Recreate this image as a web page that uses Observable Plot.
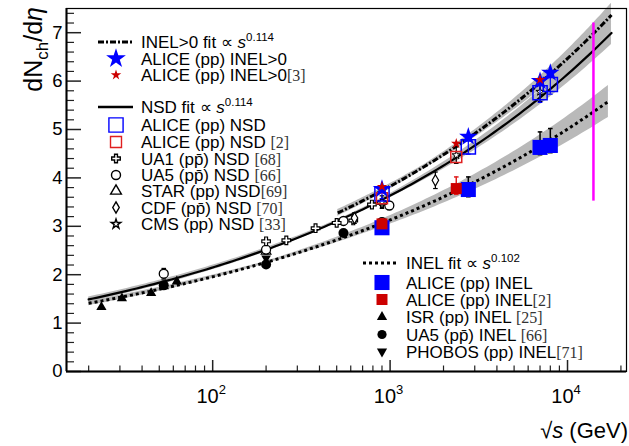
<!DOCTYPE html>
<html><head><meta charset="utf-8">
<script src="https://cdn.jsdelivr.net/npm/d3@7"></script>
<script src="https://cdn.jsdelivr.net/npm/@observablehq/plot@0.6"></script>
<style>body{margin:0;background:#fff} #chart{width:629px;height:446px}</style>
</head><body><div id="chart"></div>
<script>
// ---------- data ----------
const isrInelE = [23.6, 30.8, 45, 53, 62.8];
const isrInelV = [1.33, 1.51, 1.62, 1.76, 1.86];
const ua5InelE = [53, 200, 546, 900];
const ua5InelV = [1.78, 2.21, 2.86, 3.09];
const phobosInelE = [200];
const phobosInelV = [2.34];
const ua5NsdE = [53, 200, 546, 990];
const ua5NsdV = [2.02, 2.52, 3.11, 3.43];
const ua5NsdErr = [0.11, 0.05, 0.05, 0.05];
const ua1NsdE = [200, 260, 380, 500, 620, 790, 900];
const ua1NsdV = [2.69, 2.71, 2.96, 3.07, 3.12, 3.45, 3.48];
const starNsdE = [200];
const starNsdV = [2.48];
const cdfNsdE = [630, 1800];
const cdfNsdV = [3.17, 3.95];
const cdfNsdErr = [0.11, 0.17];
const cmsNsdE = [900, 2360, 7000];
const cmsNsdV = [3.50, 4.47, 5.78];
const cmsNsdErr = [0.13, 0.17, 0.20];
const aliceInelE = [900, 2760, 7000, 8000];
const aliceInelV = [2.97, 3.76, 4.63, 4.67];
const aliceInelUp = [0.10, 0.26, 0.32, 0.35];
const aliceInelDn = [0.06, 0.15, 0.15, 0.15];
const aliceInel2E = [900, 2360];
const aliceInel2V = [3.05, 3.78];
const aliceInel2Up = [0.10, 0.24];
const aliceInel2Dn = [0.05, 0.12];
const aliceNsdE = [900, 2760, 7000, 8000];
const aliceNsdV = [3.67, 4.64, 5.76, 5.93];
const aliceNsdUp = [0.10, 0.12, 0.18, 0.18];
const aliceNsdDn = [0.10, 0.15, 0.20, 0.20];
const aliceNsd2E = [900, 2360];
const aliceNsd2V = [3.58, 4.43];
const aliceInelGt0E = [900, 2760, 7000, 8000];
const aliceInelGt0V = [3.77, 4.85, 6.00, 6.17];
const aliceInelGt0bE = [900, 2360, 7000];
const aliceInelGt0bV = [3.82, 4.71, 6.03];
// fits dN/deta = norm * (sqrt s)^power  (power = 2 x exponent in s)
const fitNames = ["INEL>0", "NSD", "INEL"];
const fitNorm = [0.792, 0.752, 0.765];
const fitPower = [0.228, 0.228, 0.204];
const fitFrom = [507, 20, 20];
const fitTo = [17700, 17700, 17000];
const bandPivot = [1600, 600, 195];
const bandBase = [0.010, 0.008, 0.010];
const bandSlope = [0.0096, 0.0076, 0.011];
// LHC design energy marker
const lhcE = [14000];
const lhcLo = [3.52];
const lhcHi = [7.2];
// axis ticks
const yTicks = [0, 1, 2, 3, 4, 5, 6, 7];
const yMinor = d3.range(0, 38).map(i => +(i * 0.2).toFixed(1)).filter(v => !Number.isInteger(v) && v < 7.5);
const xTicks = [100, 1000, 10000];
const xTickExp = ["2", "3", "4"];
const xMinor = [20,30,40,50,60,70,80,90,200,300,400,500,600,700,800,900,2000,3000,4000,5000,6000,7000,8000,9000,20000];

// ---------- build tables ----------
const pts = (E, V, up, dn) => E.map((e, i) => ({e, v: V[i], hi: V[i] + (up ? up[i] : 0), lo: V[i] - (dn ? dn[i] : 0)}));
const isr = pts(isrInelE, isrInelV);
const ua5i = pts(ua5InelE, ua5InelV);
const phobos = pts(phobosInelE, phobosInelV);
const ua5n = pts(ua5NsdE, ua5NsdV, ua5NsdErr, ua5NsdErr);
const ua1 = pts(ua1NsdE, ua1NsdV);
const star = pts(starNsdE, starNsdV);
const cdf = pts(cdfNsdE, cdfNsdV, cdfNsdErr, cdfNsdErr);
const cms = pts(cmsNsdE, cmsNsdV, cmsNsdErr, cmsNsdErr);
const aInel = pts(aliceInelE, aliceInelV, aliceInelUp, aliceInelDn);
const aInel2 = pts(aliceInel2E, aliceInel2V, aliceInel2Up, aliceInel2Dn);
const aNsd = pts(aliceNsdE, aliceNsdV, aliceNsdUp, aliceNsdDn);
const aNsd2 = pts(aliceNsd2E, aliceNsd2V);
const aG0 = pts(aliceInelGt0E, aliceInelGt0V);
const aG0b = pts(aliceInelGt0bE, aliceInelGt0bV);
const lhc = lhcE.map((e, i) => ({e, lo: lhcLo[i], hi: lhcHi[i]}));

const fits = fitNames.map((name, k) => d3.range(0, 121).map(i => {
  const e = fitFrom[k] * Math.pow(fitTo[k] / fitFrom[k], i / 120);
  const v = fitNorm[k] * Math.pow(e, fitPower[k]);
  const hw = v * (bandBase[k] + bandSlope[k] * Math.abs(Math.log(e / bandPivot[k])));
  return {name, e, v, lo: v - hw, hi: v + hw};
})).flat();

const BLUE = "#0000ff", RED = "#cc0000", RED2 = "#e02020";
const sans = "'Liberation Sans', Arial, Helvetica, sans-serif";
const serif = "'Liberation Serif', 'Times New Roman', serif";
const cap = {draw(ctx, size) { const w = Math.sqrt(size) / 2; ctx.moveTo(-w, 0); ctx.lineTo(w, 0); }};
const errBars = (data, color, sw = 1.5) => [
  Plot.ruleX(data, {x: "e", y1: "lo", y2: "hi", stroke: color, strokeWidth: sw}),
  Plot.dot(data.filter(d => d.hi > d.v), {x: "e", y: "hi", symbol: cap, r: 2.6, stroke: color, strokeWidth: sw}),
  Plot.dot(data.filter(d => d.lo < d.v), {x: "e", y: "lo", symbol: cap, r: 2.6, stroke: color, strokeWidth: sw})
];

const W = 629, H = 446, ML = 66, MR = 3, MT = 8, MB = 75;
const frameW = W - ML - MR, frameH = H - MT - MB;

const plot = Plot.plot({
  width: W, height: H,
  marginLeft: ML, marginRight: MR, marginTop: MT, marginBottom: MB,
  style: {fontFamily: sans, background: "white"},
  x: {type: "log", domain: [15, 21500], axis: null},
  y: {domain: [0, 7.5], axis: null},
  marks: [
    Plot.areaY(fits, {x: "e", y1: "lo", y2: "hi", z: "name", fill: "#b9b9b9", curve: "linear"}),
    Plot.line(fits.filter(d => d.name === "INEL>0"), {x: "e", y: "v", stroke: "black", strokeWidth: 3, strokeDasharray: "6,2,2,2", strokeLinecap: "butt", strokeLinejoin: "miter"}),
    Plot.line(fits.filter(d => d.name === "NSD"), {x: "e", y: "v", stroke: "black", strokeWidth: 2.2}),
    Plot.line(fits.filter(d => d.name === "INEL"), {x: "e", y: "v", stroke: "black", strokeWidth: 3, strokeDasharray: "3,3", strokeLinecap: "butt", strokeLinejoin: "miter"}),
    Plot.ruleX(lhc, {x: "e", y1: "lo", y2: "hi", stroke: "#ff00ff", strokeWidth: 2.5}),
    // black reference data
    Plot.dot(isr, {x: "e", y: "v", symbol: "triangle", r: 3.8, fill: "black"}),
    Plot.dot(phobos, {x: "e", y: "v", symbol: "triangle", rotate: 180, r: 3.6, fill: "black"}),
    Plot.dot(ua5i, {x: "e", y: "v", symbol: "circle", r: 5, fill: "black"}),
    Plot.dot(star, {x: "e", y: "v", symbol: "triangle", r: 3.6, fill: "white", stroke: "black", strokeWidth: 1.2}),
    ...errBars(ua5n, "black", 1.2),
    Plot.dot(ua5n, {x: "e", y: "v", symbol: "circle", r: 4.5, fill: "white", stroke: "black", strokeWidth: 1.3}),
    Plot.dot(ua1, {x: "e", y: "v", symbol: "cross", r: 3.6, fill: "white", stroke: "black", strokeWidth: 1.2}),
    ...errBars(cdf, "black", 1.2),
    Plot.dot(cdf, {x: "e", y: "v", symbol: "diamond", r: 3.4, fill: "white", stroke: "black", strokeWidth: 1.2}),
    ...errBars(cms, "black", 1.2),
    Plot.dot(cms, {x: "e", y: "v", symbol: "star", r: 2.6, fill: "white", stroke: "black", strokeWidth: 1}),
    // ALICE
    ...errBars(aInel, "black", 1.5),
    Plot.dot(aInel, {x: "e", y: "v", symbol: "square", r: 8.5, fill: BLUE}),
    ...errBars(aInel2, RED2, 1.5),
    Plot.dot(aInel2, {x: "e", y: "v", symbol: "square", r: 6.2, fill: RED}),
    ...errBars(aNsd, BLUE, 1.2),
    Plot.dot(aNsd, {x: "e", y: "v", symbol: "square", r: 8, fill: "none", stroke: BLUE, strokeWidth: 1.5}),
    Plot.dot(aNsd2, {x: "e", y: "v", symbol: "square", r: 6.2, fill: "none", stroke: RED2, strokeWidth: 1.5}),
    Plot.dot(aG0, {x: "e", y: "v", symbol: "star", r: 5.8, fill: BLUE}),
    Plot.dot(aG0b, {x: "e", y: "v", symbol: "star", r: 3.3, fill: RED}),
    // axes: inward ticks
    Plot.tickY(yTicks, {y: d => d, insetRight: frameW - 15, stroke: "#222", strokeWidth: 1.5}),
    Plot.tickY(yMinor, {y: d => d, insetRight: frameW - 8, stroke: "#222", strokeWidth: 1.2}),
    Plot.tickX(xTicks, {x: d => d, insetTop: frameH - 11, stroke: "#222", strokeWidth: 1.5}),
    Plot.tickX(xMinor, {x: d => d, insetTop: frameH - 5.5, stroke: "#222", strokeWidth: 1.2}),
    Plot.frame({stroke: "black", strokeWidth: 1.2}),
    Plot.ruleY([0], {stroke: "black", strokeWidth: 2}),
    Plot.ruleX([15], {stroke: "black", strokeWidth: 2}),
    Plot.axisY(yTicks, {tickSize: 0, tickPadding: 4, fontSize: 18.5, fill: "black"})
  ]
});
document.getElementById("chart").appendChild(plot);

// ---------- text overlays ----------
const svg = d3.select(plot);
const X = plot.scale("x");
const g = svg.append("g").attr("font-family", sans).attr("fill", "black");

function rich(parent, x, y, segs, size, anchor) {
  const t = parent.append("text").attr("x", x).attr("y", y).attr("font-size", size)
    .attr("text-anchor", anchor || "start").attr("fill", "black");
  for (const s of segs) {
    const ts = t.append("tspan").text(s.t);
    if (s.dy) ts.attr("dy", s.dy);
    if (s.size) ts.attr("font-size", s.size);
    if (s.serif) ts.attr("font-family", serif).attr("fill", "#333");
    if (s.italic) ts.attr("font-style", "italic");
  }
  return t;
}

// x tick labels
xTicks.forEach((v, i) => {
  rich(g, X.apply(v) - 1, 403, [{t: "10"}, {t: xTickExp[i], size: 13, dy: -9}], 20, "middle");
});
// x title
rich(g, 628, 438, [{t: "\u221A"}, {t: "s", italic: true}, {t: " (GeV)"}], 22, "end");
// y title
rich(g.append("g").attr("transform", "translate(42,7) rotate(-90)"), 0, 0,
  [{t: "dN"}, {t: "ch", size: 17, dy: 6}, {t: "/d", dy: -6}, {t: "\u03B7", italic: true}], 25, "end");

// legends
const FS = 17, RS = 16;
const pbar = "p\u0304";
const fitLabel = (name, ex) => [{t: name + " fit \u221D "}, {t: "s", italic: true}, {t: ex, size: 11.5, dy: -7}];
const legTop = {mx: 116, l0: 98, l1: 133, tx: 141, rows: [
  {y: 42, line: "6,2,2,2", lw: 3, text: fitLabel("INEL>0", "0.114")},
  {y: 58.5, sym: d3.symbolStar, r: 6.2, fill: BLUE, text: [{t: "ALICE (pp) INEL>0"}]},
  {y: 75, sym: d3.symbolStar, r: 3.3, fill: RED, text: [{t: "ALICE (pp) INEL>0"}, {t: "[3]", serif: true, size: RS}]},
  {y: 107, line: null, lw: 2.5, text: fitLabel("NSD", "0.114")},
  {y: 125, sym: d3.symbolSquare, r: 8, stroke: BLUE, text: [{t: "ALICE (pp) NSD"}]},
  {y: 142, sym: d3.symbolSquare, r: 6.2, stroke: RED2, text: [{t: "ALICE (pp) NSD "}, {t: "[2]", serif: true, size: RS}]},
  {y: 158.5, sym: d3.symbolCross, r: 3.6, stroke: "black", text: [{t: "UA1 (p" + pbar + ") NSD "}, {t: "[68]", serif: true, size: RS}]},
  {y: 175, sym: d3.symbolCircle, r: 4.5, stroke: "black", text: [{t: "UA5 (p" + pbar + ") NSD "}, {t: "[66]", serif: true, size: RS}]},
  {y: 191, sym: d3.symbolTriangle, r: 4, stroke: "black", text: [{t: "STAR (pp) NSD"}, {t: "[69]", serif: true, size: RS}]},
  {y: 207.5, sym: d3.symbolDiamond, r: 3.4, stroke: "black", text: [{t: "CDF (p" + pbar + ") NSD "}, {t: "[70]", serif: true, size: RS}]},
  {y: 224, sym: d3.symbolStar, r: 3, stroke: "black", text: [{t: "CMS (pp) NSD "}, {t: "[33]", serif: true, size: RS}]}
]};
const legBot = {mx: 382, l0: 363, l1: 398, tx: 406, rows: [
  {y: 263, line: "3,3", lw: 3, text: fitLabel("INEL", "0.102")},
  {y: 282.5, sym: d3.symbolSquare, r: 8.5, fill: BLUE, text: [{t: "ALICE (pp) INEL"}]},
  {y: 299.5, sym: d3.symbolSquare, r: 6.2, fill: RED, text: [{t: "ALICE (pp) INEL"}, {t: "[2]", serif: true, size: RS}]},
  {y: 317, sym: d3.symbolTriangle, r: 3.8, fill: "black", text: [{t: "ISR (pp) INEL "}, {t: "[25]", serif: true, size: RS}]},
  {y: 334.5, sym: d3.symbolCircle, r: 4.6, fill: "black", text: [{t: "UA5 (p" + pbar + ") INEL "}, {t: "[66]", serif: true, size: RS}]},
  {y: 351.5, sym: d3.symbolTriangle, r: 3.8, fill: "black", rot: 180, text: [{t: "PHOBOS (pp) INEL"}, {t: "[71]", serif: true, size: RS}]}
]};
for (const L of [legTop, legBot]) {
  for (const r of L.rows) {
    if (r.sym) {
      g.append("path").attr("d", d3.symbol(r.sym, Math.PI * r.r * r.r)())
        .attr("transform", `translate(${L.mx},${r.y})` + (r.rot ? ` rotate(${r.rot})` : ""))
        .attr("fill", r.fill || "white").attr("stroke", r.stroke || "none").attr("stroke-width", r.stroke ? 1.4 : 0);
    } else {
      g.append("line").attr("x1", L.l0).attr("x2", L.l1).attr("y1", r.y).attr("y2", r.y)
        .attr("stroke", "black").attr("stroke-width", r.lw).attr("stroke-dasharray", r.line || null);
    }
    rich(g, L.tx, r.y + 6, r.text, FS, "start");
  }
}
</script>
</body></html>
